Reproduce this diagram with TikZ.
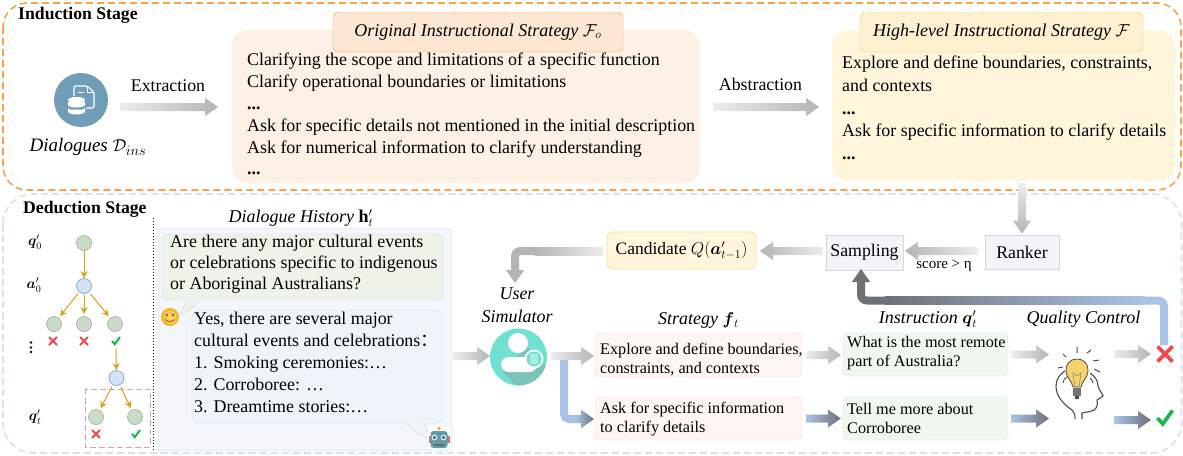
\documentclass[tikz,border=0pt]{standalone}
\usepackage{fontspec}
\usepackage{amsmath}
\usepackage{xcolor}
\usepackage{tikz}
\usetikzlibrary{calc,arrows.meta,shapes.geometric}
\setmainfont{Liberation Serif}
\newfontfamily\cjk{Noto Sans CJK SC}

\definecolor{flowlight}{HTML}{EDEDED}
\definecolor{flowmid}{HTML}{B4B4B4}
\definecolor{flowblue}{HTML}{A9C3E6}
\definecolor{flowdark}{HTML}{6E7078}
\definecolor{treegold}{HTML}{D9A21B}
\definecolor{markred}{HTML}{F4474A}
\definecolor{markgreen}{HTML}{19B84A}
\definecolor{frameorange}{HTML}{F9A24B}
\definecolor{frameblue}{HTML}{D6E1F3}
\definecolor{datablue}{HTML}{709DB8}
\definecolor{origfill}{HTML}{FDF0E4}
\definecolor{origtop}{HTML}{FDE6D2}
\definecolor{origline}{HTML}{E8AE50}
\definecolor{highfill}{HTML}{FFF6DC}
\definecolor{hightop}{HTML}{FFF1CF}
\definecolor{highline}{HTML}{E8C468}
\definecolor{lilacfill}{HTML}{F6F2FA}
\definecolor{lilacline}{HTML}{DAD2E6}
\definecolor{candline}{HTML}{F5DFA0}
\definecolor{panelfill}{HTML}{F3F6FA}
\definecolor{askfill}{HTML}{EDF3E9}
\definecolor{askline}{HTML}{C9DFC4}
\definecolor{ansfill}{HTML}{EFF3FA}
\definecolor{ansline}{HTML}{C9D7EC}
\definecolor{rosefill}{HTML}{FFF5F3}
\definecolor{roseline}{HTML}{F8D5D0}
\definecolor{mintfill}{HTML}{F0F7EF}
\definecolor{mintline}{HTML}{CFE6CC}
\definecolor{simteal}{HTML}{70E0D0}
\definecolor{simshadow}{HTML}{7CC4B8}
\definecolor{treegreen}{HTML}{C9DCC5}
\definecolor{treeblue}{HTML}{D3E3F8}
\definecolor{treeblueline}{HTML}{8AA9D6}
\definecolor{dashrose}{HTML}{DB9DBC}
\definecolor{bulbyellow}{HTML}{F6D36C}
\definecolor{smilelight}{HTML}{FFE06E}
\definecolor{smiledark}{HTML}{F0AF28}
\definecolor{robotred}{HTML}{E8705A}
\definecolor{robotteal}{HTML}{5F9AA8}
\definecolor{roboteye}{HTML}{BFE6F2}

\tikzset{
  softbox/.style={rounded corners=#1, inner sep=0pt},
  softbox/.default=12pt,
  bodytext/.style={align=left, anchor=north west, inner sep=0pt, font=\fontsize{17.9}{21.8}\selectfont},
  celltext/.style={align=left, anchor=west, inner sep=0pt, font=\fontsize{16.2}{19}\selectfont},
  headtext/.style={inner sep=0pt, font=\fontsize{18}{20}\selectfont\itshape},
  plaintext/.style={inner sep=0pt, font=\fontsize{17.8}{20}\selectfont},
  stagetext/.style={inner sep=0pt, font=\fontsize{17.7}{20}\selectfont\bfseries},
  greennode/.style={circle, draw=black!30, fill=treegreen, line width=0.8pt, minimum size=15pt, inner sep=0pt},
  bluenode/.style={circle, draw=treeblueline, fill=treeblue, line width=0.8pt, minimum size=15pt, inner sep=0pt},
  treearrow/.style={draw=treegold, line width=1pt, -{Stealth[length=7pt,width=7pt]}},
  greyflow/.style={left color=flowlight, right color=flowmid},
  backflow/.style={left color=flowmid, right color=flowlight},
  blueflow/.style={left color=flowblue, right color=flowdark},
  downflow/.style={top color=flowlight, bottom color=flowmid},
  smallmark/.style={scale=0.8, line width=2pt},
  bigmark/.style={scale=1.5, line width=3.6pt},
  crossmark/.pic={\draw[markred] (-5,-5) -- (5,5) (-5,5) -- (5,-5);},
  checkmark/.pic={\draw[markgreen] (-5,0) -- (-1.5,4) -- (5,-5);}
}

% wide shaded arrow from #2 to #3, #4 and #5 are the gaps at both ends
\newcommand{\flowarrow}[5][greyflow]{
  \coordinate (fa) at ($(#2)!#4pt!(#3)$);
  \coordinate (fb) at ($(#3)!#5pt!(#2)$);
  \coordinate (fh) at ($(fb)!13pt!(fa)$);
  \shade[#1] ($(fa)!4pt!90:(fb)$) -- ($(fh)!4pt!90:(fb)$) -- ($(fh)!9.2pt!90:(fb)$) -- (fb)
    -- ($(fh)!9.2pt!-90:(fb)$) -- ($(fh)!4pt!-90:(fb)$) -- ($(fa)!4pt!-90:(fb)$) -- cycle;
}

\begin{document}
\begin{tikzpicture}[x=1pt,y=-1pt]
\useasboundingbox (0,0) rectangle (1183,455);

% stage frames
\draw[draw=frameorange, line width=1.6pt, dash pattern=on 7pt off 4pt, rounded corners=24pt] (3,3) rectangle (1181,190);
\draw[draw=frameblue, line width=1.6pt, dash pattern=on 7pt off 4pt, rounded corners=30pt] (3,194) rectangle (1181.5,453);
\node[stagetext, anchor=west] (induction) at (18,15) {Induction Stage};
\node[stagetext, anchor=west] (deduction) at (23,209) {Deduction Stage};

% induction stage
\node[circle, fill=datablue, minimum size=54pt, inner sep=0pt] (data) at (81,100) {};
\draw[white, line width=1.1pt, rounded corners=1.5pt] (74,96) -- (74,86) -- (87,86) -- (94,92) -- (94,108) -- (86,108);
\draw[white, line width=1pt] (87,86) -- (87,92) -- (94,92) (78,92) -- (84,92);
\fill[white] (76.5,100) ellipse (8.5 and 3);
\fill[white] (68,102) -- (85,102) -- (85,105) arc (0:180:8.5 and 2.5) -- cycle;
\fill[white] (68,108) -- (70,109.5) -- (83,109.5) -- (85,108) -- (85,111.5) arc (0:180:8.5 and 3) -- cycle;
\node[headtext, font=\fontsize{19}{20}\selectfont\itshape] (dialogues) at (88,147) {Dialogues $\mathcal{D}_{ins}$};
\node[plaintext] (extraction) at (168,86) {Extraction};

\node[softbox=16pt, fill=origfill, minimum width=468pt, minimum height=153pt] (origbox) at (466,106.5) {};
\node[softbox=5pt, draw=origline, fill=origtop, minimum width=290pt, minimum height=40pt] (origtitle) at (478,32) {};
\node[headtext] at (origtitle) {Original Instructional Strategy $\mathcal{F}_o$};
\node[bodytext] (origtext) at (247,53) {Clarifying the scope and limitations of a specific function\\
Clarify operational boundaries or limitations\\
\textbf{...}\\
Ask for specific details not mentioned in the initial description\\
Ask for numerical information to clarify understanding\\
\textbf{...}};
\node[plaintext] (abstraction) at (760.5,84) {Abstraction};

\node[softbox=16pt, fill=highfill, minimum width=343pt, minimum height=151pt] (highbox) at (1003.5,105.5) {};
\node[softbox=5pt, draw=highline, fill=hightop, minimum width=283pt, minimum height=40pt] (hightitle) at (1001.5,32) {};
\node[headtext] at (hightitle) {High-level Instructional Strategy $\mathcal{F}$};
\node[bodytext, font=\fontsize{17.9}{22.7}\selectfont] (hightext) at (842,56) {Explore and define boundaries, constraints,\\
and contexts\\
\textbf{...}\\
Ask for specific information to clarify details\\
\textbf{...}};

\coordinate (dataout) at (108,107);
\coordinate (origin) at (232,107);
\coordinate (origout) at (700,107);
\coordinate (highin) at (832,107);
\flowarrow{dataout}{origin}{12}{14}
\flowarrow{origout}{highin}{13}{13}

% ranking row
\node[softbox=0pt, draw=lilacline, fill=lilacfill, minimum width=74pt, minimum height=34pt, line width=0.8pt, font=\fontsize{17.8}{20}\selectfont] (ranker) at (1022,252) {Ranker};
\node[softbox=0pt, draw=lilacline, fill=lilacfill, minimum width=77pt, minimum height=35pt, line width=0.8pt, font=\fontsize{17.8}{20}\selectfont] (sampling) at (864.5,252.5) {Sampling};
\node[softbox=5pt, draw=candline, fill=highfill, minimum width=149pt, minimum height=37pt, line width=0.8pt, font=\fontsize{17.5}{20}\selectfont] (candidate) at (681.5,250.5) {Candidate $Q(\boldsymbol{a}'_{t-1})$};
\node[inner sep=0pt, font=\fontsize{15}{16}\selectfont] (score) at (944,266) {score > η};

\coordinate (highout) at (ranker |- highbox.south);
\coordinate (rankerout) at (985,251);
\coordinate (samplingeast) at (903,251);
\coordinate (samplingwest) at (826,251);
\coordinate (candeast) at (756,251);
\flowarrow[downflow]{highout}{ranker.north}{2}{1}
\flowarrow[backflow]{rankerout}{samplingeast}{7}{2}
\flowarrow[backflow]{samplingwest}{candeast}{3}{4}

% candidate back to the simulator
\coordinate (candout) at (603,251);
\coordinate (candturn) at (535,251);
\coordinate (candmid) at (515,251);
\coordinate (simin) at (515,283);
\shade[left color=flowmid, right color=flowlight] ($(candturn)+(0,-4)$) rectangle ($(candout)+(0,4)$);
\draw[flowmid, line width=8pt, rounded corners=5pt] (candturn) -- (candmid) -- (515,266);
\flowarrow[left color=flowmid, right color=flowmid]{515,264}{simin}{0}{0}

% dialogue history
\node[headtext] (historytitle) at (301,218) {Dialogue History $\mathbf{h}'_t$};
\node[softbox=0pt, draw=blue!8!white, fill=panelfill, minimum width=293pt, minimum height=222pt] (panel) at (304.5,339) {};
\filldraw[draw=askline, fill=askfill] (186,299) .. controls (184,308) and (182,312) .. (177,316) .. controls (187,314) and (194,308) .. (199,299) -- cycle;
\node[softbox=7pt, draw=askline, fill=askfill, minimum width=281pt, minimum height=66pt] (asker) at (302.5,267) {};
\draw[askfill, line width=1.2pt] (187,300) -- (198,300);
\node[bodytext, font=\fontsize{17.9}{21}\selectfont] (askertext) at (170,235) {Are there any major cultural events\\
or celebrations specific to indigenous\\
or Aboriginal Australians?};
\filldraw[draw=ansline, fill=ansfill] (405,422) .. controls (412,430) and (420,436) .. (431,439) .. controls (428,434) and (426,428) .. (424,422) -- cycle;
\node[softbox=7pt, draw=ansline, fill=ansfill, minimum width=251pt, minimum height=113pt] (answer) at (317.5,366.5) {};
\draw[ansfill, line width=1.2pt] (406,423) -- (423,423);
\node[bodytext, font=\fontsize{17.9}{22}\selectfont] (answertext) at (194,312) {Yes, there are several major\\
cultural events and celebrations{\cjk ：}\\
1. Smoking ceremonies:…\\
2. Corroboree: …\\
3. Dreamtime stories:…};

% smiley and robot
\shade[inner color=smilelight, outer color=smiledark] (170,317) circle (9);
\fill[black!70] (167,315) ellipse (0.9 and 1.5) (173,315) ellipse (0.9 and 1.5);
\draw[black!70, line width=0.6pt] (165.5,319.5) .. controls (168,322) and (172,322) .. (174.5,319.5);
\fill[white] (428,427) rectangle (451,449);
\fill[robotred] (428.5,436) rectangle (449.5,443);
\fill[smiledark] (439,428.5) circle (1.8);
\fill[robotteal, rounded corners=3pt] (430.5,431) rectangle (447.5,448);
\fill[roboteye] (434.5,437.5) circle (3) (443.5,437.5) circle (3);
\fill[black!75] (434.5,437.5) circle (1.3) (443.5,437.5) circle (1.3);
\fill[robotred] (439,441) circle (1);
\fill[black!60] (434,444) rectangle (444,446);

% search tree
\draw[black, line width=1pt, dotted] (153.5,218) -- (153.5,450);
\node[inner sep=0pt, font=\fontsize{14}{16}\selectfont] (q0) at (35,242) {$\boldsymbol{q}'_0$};
\node[inner sep=0pt, font=\fontsize{14}{16}\selectfont] (a0) at (34,285) {$\boldsymbol{a}'_0$};
\node[inner sep=0pt, font=\fontsize{14}{16}\selectfont] (qt) at (35,417) {$\boldsymbol{q}'_t$};
\fill[black] (31,342.5) circle (1.3) (31,347.5) circle (1.3) (31,352) circle (1.3);

\node[greennode] (root) at (84,243) {};
\node[bluenode] (act0) at (84,286) {};
\node[greennode] (leafa) at (54,324) {};
\node[greennode] (leafb) at (84,324) {};
\node[greennode] (leafc) at (115,324) {};
\node[bluenode] (act1) at (116.5,378) {};
\node[greennode] (leafd) at (96,417) {};
\node[greennode] (leafe) at (135,417) {};
\draw[draw=dashrose, line width=1pt, dash pattern=on 6pt off 3pt] (85,389) rectangle (150,447);

\draw[treearrow] (root) -- (act0);
\draw[treearrow, shorten >=2pt, shorten <=2pt] (act0) -- (leafa);
\draw[treearrow, shorten >=2pt, shorten <=1pt] (act0) -- (leafb);
\draw[treearrow, shorten >=2pt, shorten <=2pt] (act0) -- (leafc);
\coordinate (leafcmark) at (116,348);
\draw[treearrow] (leafcmark) -- (act1);
\draw[treearrow, shorten >=2pt, shorten <=2pt] (act1) -- (leafd);
\draw[treearrow, shorten >=2pt, shorten <=2pt] (act1) -- (leafe);

\pic[smallmark] at (53,341) {crossmark};
\pic[smallmark] at (84,341) {crossmark};
\pic[smallmark] at (116,341) {checkmark};
\pic[smallmark] at (96,434) {crossmark};
\pic[smallmark] at (136,434) {checkmark};

% simulator
\node[headtext, align=center, font=\fontsize{18}{23}\selectfont\itshape] (simtitle) at (517,305) {User\\Simulator};
\node[ellipse, fill=simteal, minimum width=57pt, minimum height=57pt, inner sep=0pt] (simulator) at (518.5,357) {};
\begin{scope}
\clip (518.5,357) circle (28.5);
\fill[simshadow] (526,346) -- (560,380) -- (530,400) -- (503,372) -- cycle;
\end{scope}
\fill[white] (518,343) circle (10);
\fill[white, rounded corners=7.5pt] (501,357) rectangle (537,372);
\fill[white] (534,359) circle (9.5);
\fill[simteal] (534,359) circle (7.5);
\fill[white!40!simteal] (530,354) rectangle (538,364);

% strategy and instruction rows
\node[headtext] (strategytitle) at (698.5,320) {Strategy $\boldsymbol{f}_t$};
\node[headtext] (instrtitle) at (928,319) {Instruction $\boldsymbol{q}'_t$};
\node[headtext] (qualitytitle) at (1083.5,319) {Quality Control};

\node[softbox=5pt, draw=roseline, fill=rosefill, minimum width=207pt, minimum height=44pt] (stratup) at (698.5,355) {};
\node[softbox=5pt, draw=roseline, fill=rosefill, minimum width=207pt, minimum height=43pt] (stratlow) at (698.5,418.5) {};
\node[softbox=5pt, draw=mintline, fill=mintfill, minimum width=165pt, minimum height=43pt] (instrup) at (925.5,354.5) {};
\node[softbox=5pt, draw=mintline, fill=mintfill, minimum width=165pt, minimum height=43pt] (instrlow) at (925.5,418.5) {};
\node[celltext] (stratuptext) at (600,360) {Explore and define boundaries,\\constraints, and contexts};
\node[celltext] (stratlowtext) at (600,419) {Ask for specific information\\to clarify details};
\node[celltext] (instruptext) at (847,353) {What is the most remote\\part of Australia?};
\node[celltext] (instrlowtext) at (847,418) {Tell me more about\\Corroboree};

% quality control head with bulb
\node[minimum width=50pt, minimum height=75pt, inner sep=0pt] (head) at (1079,382) {};
\draw[black!70, line width=1.1pt] (1075,419) .. controls (1075,414) and (1074,412) .. (1072,410) .. controls (1063,404) and (1056,396) .. (1056,386) .. controls (1056,379) and (1060,374) .. (1065,371);
\draw[black!70, line width=1.1pt] (1090,373) .. controls (1095,376) and (1098,381) .. (1098,386) .. controls (1099,390) and (1102,393) .. (1103,396) -- (1097,400) .. controls (1098,404) and (1097,408) .. (1094,410) .. controls (1090,412) and (1085,412) .. (1082,413) -- (1082,419);
\draw[black!70, line width=0.9pt] (1063,383) .. controls (1063,380) and (1065,378) .. (1067,377) (1093,383) .. controls (1093,381) and (1092,380) .. (1090,378);
\filldraw[fill=bulbyellow, draw=black!70, line width=0.8pt] (1073,387) .. controls (1072,381) and (1066,378) .. (1066,370) .. controls (1066,363) and (1071,359) .. (1077,359) .. controls (1083,359) and (1088,363) .. (1088,370) .. controls (1088,378) and (1082,381) .. (1081,387) -- cycle;
\draw[black!50, line width=0.5pt] (1075,387) -- (1073,373) -- (1077,376) -- (1081,373) -- (1079,387);
\fill[black!55] (1073,388) rectangle (1081,396);
\fill[black!70] (1075,396) rectangle (1079,398.5);
\draw[black!70, line width=1pt] (1077,347) -- (1077,353) (1087,353) -- (1091,350) (1093,361) -- (1099,360) (1094,369) -- (1100,372) (1066,357) -- (1063,354) (1063,367) -- (1058,368);

% marks
\pic[bigmark] at (1165,354) {crossmark};
\pic[bigmark] at (1165,418) {checkmark};
\coordinate (okout) at (1114,420);
\coordinate (okin) at (1151,420);
\coordinate (badout) at (1114,354);
\coordinate (badin) at (1151,354);
\coordinate (instrupout) at (1011,354.5);
\coordinate (headup) at (1049,354.5);
\coordinate (instrlowout) at (1011,418.5);
\coordinate (headlow) at (1049,418.5);

% flows of the lower part
\coordinate (simulatorin) at (453,356);
\coordinate (simwest) at (490,356);
\flowarrow{simulatorin}{simwest}{0}{0}
\coordinate (simout) at (551,356);
\coordinate (stratupin) at (594,356);
\coordinate (stratupout) at (802,355);
\coordinate (instrupin) at (843,355);
\flowarrow{simout}{stratupin}{0}{0}
\flowarrow{stratupout}{instrupin}{4}{2}
\flowarrow{instrupout}{headup}{0}{0}
\flowarrow{badout}{badin}{0}{0}

\coordinate (lowstart) at (564,360);
\coordinate (lowturn) at (564,419);
\coordinate (lowin) at (594,419);
\draw[flowblue, line width=8pt, rounded corners=5pt] (lowstart) -- (lowturn) -- (578,419);
\flowarrow[blueflow]{576,419}{lowin}{0}{0}
\flowarrow[blueflow]{stratlow.east}{instrlow.west}{4}{2}
\flowarrow[blueflow]{instrlowout}{headlow}{0}{0}
\flowarrow[blueflow]{okout}{okin}{0}{0}

% feedback of a rejected instruction
\coordinate (badup) at (1164,345);
\coordinate (fbright) at (1145,300.5);
\coordinate (fbleft) at (885,300.5);
\coordinate (samplingin) at (861,269);
\draw[flowblue, line width=8pt, rounded corners=6pt] (badup) -- (1164,300.5) -- (fbright);
\shade[left color=flowdark, right color=flowblue] ($(fbleft)+(0,-4)$) rectangle ($(fbright)+(0,4)$);
\draw[flowdark, line width=8pt, rounded corners=6pt] (fbleft) -- (861,300.5) -- (861,284);
\flowarrow[left color=flowdark, right color=flowdark]{861,286}{samplingin}{0}{0}
\end{tikzpicture}
\end{document}
